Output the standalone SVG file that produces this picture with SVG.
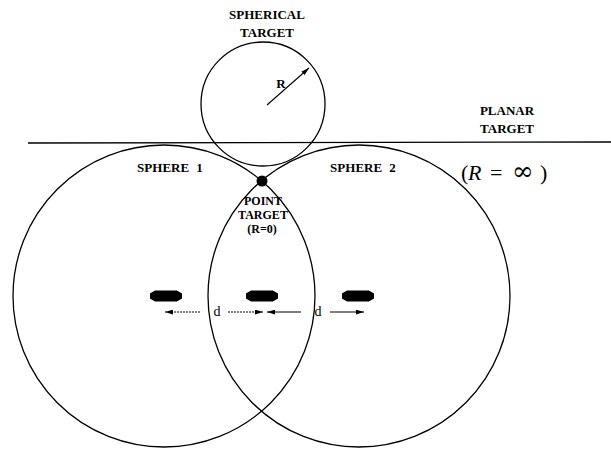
<svg xmlns="http://www.w3.org/2000/svg" width="611" height="454" viewBox="0 0 611 454">
<defs>
<marker id="ah" viewBox="0 0 10 6" refX="10" refY="3" markerWidth="8" markerHeight="5" markerUnits="userSpaceOnUse" orient="auto">
<path d="M0,0 L10,3 L0,6 Z" fill="#000"/>
</marker>
</defs>
<style>
.ln{fill:none;stroke:#000;stroke-width:1.3}
.ar{fill:none;stroke:#000;stroke-width:1.1;marker-end:url(#ah)}
.dt{stroke-dasharray:2 1}
.lb{font-family:"Liberation Serif","Times New Roman",serif;font-size:13px;font-weight:bold;fill:#000;text-anchor:middle}
.sm{font-size:12px}
.dd{font-family:"Liberation Serif","Times New Roman",serif;font-size:14px;fill:#000;text-anchor:middle}
.mt{font-family:"Liberation Serif","Times New Roman",serif;font-size:22px;fill:#000}
.blob{fill:#000}
</style>
<rect width="611" height="454" fill="#fff"/>
<g id="planar-target">
<line class="ln" x1="28" y1="143" x2="611" y2="142"/>
<text class="lb" x="507" y="115">PLANAR</text>
<text class="lb" x="507" y="133">TARGET</text>
<text class="mt" y="180"><tspan x="461">(</tspan><tspan x="468" font-style="italic">R</tspan><tspan x="490">=</tspan><tspan x="512" font-family="'DejaVu Serif',serif" font-size="26">∞</tspan><tspan x="540">)</tspan></text>
</g>
<g id="spherical-target">
<circle class="ln" cx="263" cy="104" r="62"/>
<text class="lb" x="267" y="19">SPHERICAL</text>
<text class="lb" x="267" y="37">TARGET</text>
<text class="lb" x="281" y="88">R</text>
</g>
<g id="sphere1">
<circle class="ln" cx="164" cy="296" r="151"/>
<text class="lb" x="170" y="172" word-spacing="4">SPHERE 1</text>
</g>
<g id="sphere2">
<circle class="ln" cx="359" cy="296" r="151"/>
<text class="lb" x="363" y="172" word-spacing="4">SPHERE 2</text>
</g>
<g id="point-target">
<circle cx="262" cy="181" r="5.5" fill="#000"/>
<text class="lb sm" x="263" y="205">POINT</text>
<text class="lb sm" x="263" y="219">TARGET</text>
<text class="lb sm" x="262" y="233">(R=0)</text>
</g>
<g id="sources">
<path class="blob" d="M155,290.5 H177 L182,293.5 V298.5 L177,301.5 H155 L150,298.5 V293.5 Z"/>
<path class="blob" d="M251,290.5 H273 L278,293.5 V298.5 L273,301.5 H251 L246,298.5 V293.5 Z"/>
<path class="blob" d="M347,290.5 H369 L374,293.5 V298.5 L369,301.5 H347 L342,298.5 V293.5 Z"/>
<text class="dd" x="217" y="316">d</text>
<text class="dd" x="318" y="316">d</text>
</g>
<g id="connectors">
<line class="ar" x1="267" y1="105" x2="309" y2="68"/>
<line class="ar dt" x1="200" y1="312" x2="165" y2="312"/>
<line class="ar dt" x1="228" y1="312" x2="263" y2="312"/>
<line class="ar" x1="301" y1="312" x2="267" y2="312"/>
<line class="ar" x1="330" y1="312" x2="364" y2="312"/>
</g>
</svg>
